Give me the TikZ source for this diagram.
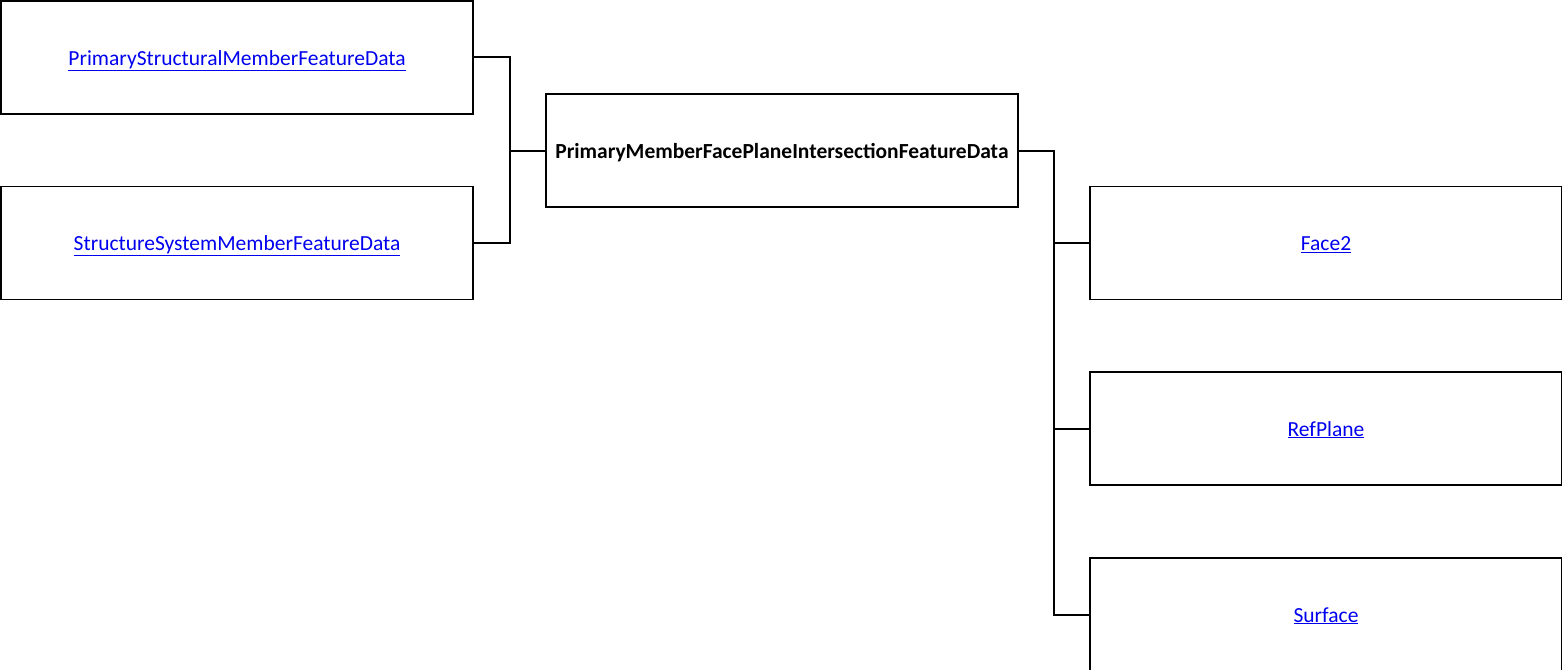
\documentclass[tikz,border=0pt]{standalone}
\usepackage{fontspec}
\setmainfont{Carlito}
\definecolor{linkblue}{RGB}{0,0,238}
\begin{document}
\begin{tikzpicture}[x=1pt,y=-1pt,
  box/.style={draw=black,line width=1.4pt,rectangle,minimum width=472pt,minimum height=113pt,inner sep=0pt,text height=20pt,text depth=5pt,font=\fontsize{21.5}{24}\selectfont},
  link/.style={text=linkblue},
  conn/.style={line width=2pt}]
\useasboundingbox (0,0) rectangle (1562,669);
\clip (0,0) rectangle (1562,669);
\node[box,link] (l1) at (237,57.5) {\underline{PrimaryStructuralMemberFeatureData}};
\node[box,link] (l2) at (237,243) {\underline{StructureSystemMemberFeatureData}};
\node[box,font=\fontsize{21.5}{24}\selectfont\bfseries] (c) at (782,150.5) {PrimaryMemberFacePlaneIntersectionFeatureData};
\node[box,link] (r1) at (1326,243) {\underline{Face2}};
\node[box,link] (r2) at (1326,428.5) {\underline{RefPlane}};
\node[box,link] (r3) at (1326,614.5) {\underline{Surface}};
\coordinate (jl) at (510,150.5);
\coordinate (jr) at (1054,150.5);
\draw[conn] (l1.east) -| (jl) |- (l2.east);
\draw[conn] (jl) -- (c.west);
\draw[conn] (c.east) -- (jr) |- (r3.west);
\draw[conn] (jr |- r1.west) -- (r1.west);
\draw[conn] (jr |- r2.west) -- (r2.west);
\end{tikzpicture}
\end{document}
